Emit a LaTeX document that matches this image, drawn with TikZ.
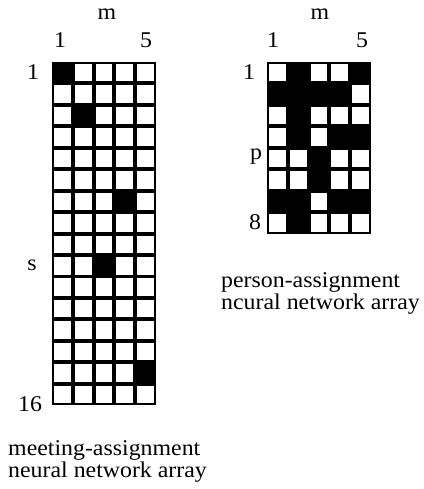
\documentclass[tikz,border=0pt]{standalone}
\usepackage{fontspec}
\setmainfont[FakeStretch=1.06]{Liberation Serif}
\begin{document}
\begin{tikzpicture}[x=1pt,y=-1pt,
  lbl/.style={font=\fontsize{22.5}{22.5}\selectfont, inner sep=0pt, anchor=base},
  captext/.style={font=\fontsize{22.5}{23}\selectfont, inner sep=0pt, anchor=base west},
  cellon/.style={fill=black},
  celloff/.style={fill=white}]
\useasboundingbox (0,0) rectangle (423,489);
\def\cw{20.8}
\def\ch{21.45}
\def\gap{1.95}
% meeting-assignment array: 16 rows x 5 columns
\begin{scope}[shift={(52,62)}]
  \fill[black] (0,0) rectangle ({5*\cw},{16*\ch});
  \foreach \r in {1,...,16}
    \foreach \c in {1,...,5}
      \path[celloff] ({(\c-1)*\cw+\gap},{(\r-1)*\ch+\gap}) rectangle ({\c*\cw-\gap},{\r*\ch-\gap});
  \foreach \r/\c in {1/1,3/2,7/4,10/3,15/5}
    \path[cellon] ({(\c-1)*\cw},{(\r-1)*\ch}) rectangle ++(\cw,\ch);
\end{scope}
% person-assignment array: 8 rows x 5 columns
\begin{scope}[shift={(267,62)}]
  \fill[black] (0,0) rectangle ({5*\cw},{8*\ch});
  \foreach \r in {1,...,8}
    \foreach \c in {1,...,5}
      \path[celloff] ({(\c-1)*\cw+\gap},{(\r-1)*\ch+\gap}) rectangle ({\c*\cw-\gap},{\r*\ch-\gap});
  \foreach \r/\c in {1/2,1/5,2/1,2/2,2/3,2/4,3/2,4/2,4/4,4/5,5/3,6/3,7/1,7/2,7/4,7/5,8/2}
    \path[cellon] ({(\c-1)*\cw},{(\r-1)*\ch}) rectangle ++(\cw,\ch);
\end{scope}
% axis labels of the meeting array
\node[lbl] (mL)   at (107,20)  {m};
\node[lbl] (c1L)  at (60,48)   {1};
\node[lbl] (c5L)  at (146,48)  {5};
\node[lbl] (r1L)  at (33,80)   {1};
\node[lbl] (sL)   at (32,270)  {s};
\node[lbl] (r16L) at (30,411)  {16};
% axis labels of the person array
\node[lbl] (mR)  at (320,20)  {m};
\node[lbl] (c1R) at (273,48)  {1};
\node[lbl] (c5R) at (362,48)  {5};
\node[lbl] (r1R) at (249,80)  {1};
\node[lbl] (pR)  at (256,160) {p};
\node[lbl] (r8R) at (255,229) {8};
% captions
\node[captext] (capL1) at (8,455)   {meeting-assignment};
\node[captext] (capL2) at (8,477)   {neural network array};
\node[captext] (capR1) at (221,287) {person-assignment};
\node[captext] (capR2) at (221,309) {ncural network array};
\end{tikzpicture}
\end{document}
